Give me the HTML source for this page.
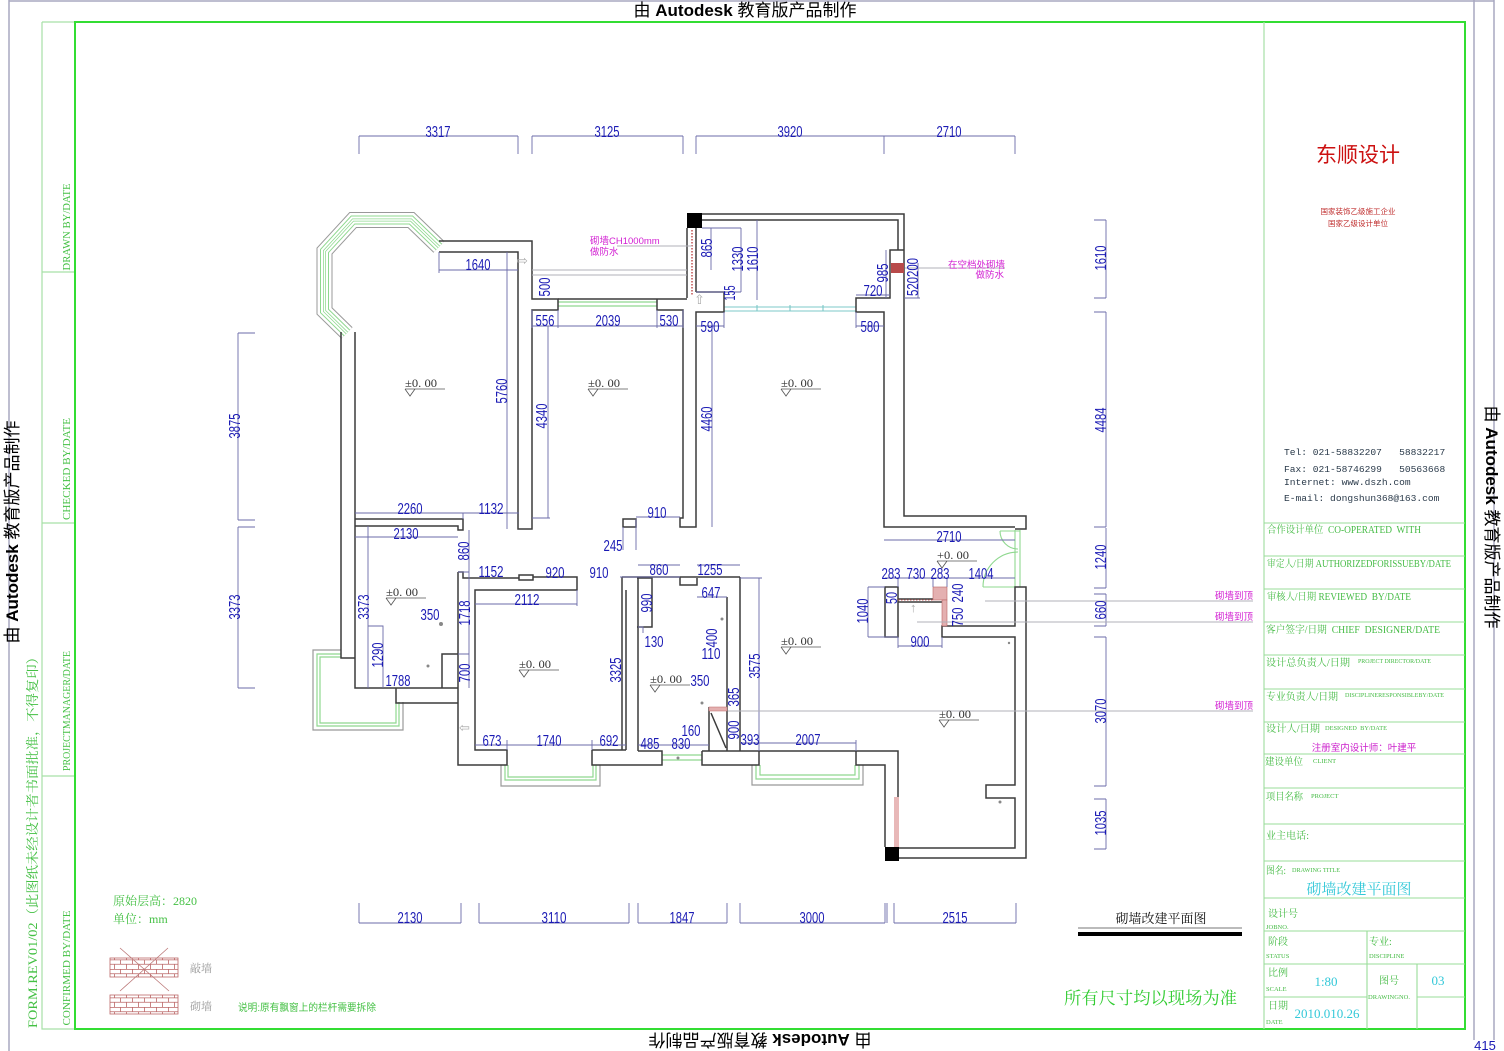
<!DOCTYPE html>
<html><head><meta charset="utf-8"><style>
html,body{margin:0;padding:0;background:#fff;}
svg{display:block}
.d{font-family:"Liberation Sans Narrow","Liberation Sans",sans-serif;font-size:16px;fill:#1a1ab4;text-anchor:middle}
.e{font-family:"Liberation Serif",serif;font-size:12px;fill:#333}
.g{font-family:"Liberation Serif","Noto Serif CJK SC",serif;fill:#44bb44;font-size:10px}
.gs{font-family:"Liberation Serif",serif;fill:#44bb44;font-size:6.5px}
.m{font-family:"Liberation Sans","Noto Sans CJK SC",sans-serif;font-size:9.5px;fill:#d21fd2}
.c{font-family:"Liberation Serif","Noto Serif CJK SC",serif;fill:#33c8d8}
.h{font-family:"Liberation Sans","Noto Sans CJK SC",sans-serif;font-size:17px;fill:#000}
</style></head><body>
<svg width="1504" height="1051" viewBox="0 0 1504 1051" xmlns="http://www.w3.org/2000/svg">
<defs>
<pattern id="brick" width="12" height="9.5" patternUnits="userSpaceOnUse">
<rect width="12" height="9.5" fill="#fff"/>
<path d="M0,0.3H12M0,4.75H12M0.5,0V4.75M6.5,4.75V9.5" stroke="#b66" stroke-width="0.8" fill="none"/>
</pattern>
</defs>
<rect width="1504" height="1051" fill="#fff"/>

<!-- outer gray frame -->
<g stroke="#a8a8c0" stroke-width="1.5" fill="none">
<path d="M9,0V1051M9,1H1494M1474,0V1040M1494,0V1040"/>
</g>
<!-- green frames -->
<g fill="none">
<path d="M42,22V1029H75M42,22H75M42,272H75M42,523H75M42,776H75" stroke="#a6e0a6" stroke-width="1.2"/>
<rect x="75" y="22" width="1390" height="1007" stroke="#33dd33" stroke-width="2"/>
<path d="M1264,22V1029" stroke="#a6e0a6" stroke-width="1.2"/>
<path d="M1264,523H1465M1264,556H1465M1264,589H1465M1264,622H1465M1264,655H1465M1264,689H1465M1264,722H1465M1264,754H1465M1264,788H1465M1264,824H1465M1264,861H1465M1264,898H1465M1264,931H1465M1264,964H1465M1264,997H1367M1417,997H1465M1367,931V1029M1417,964V1029" stroke="#99dd99" stroke-width="1.1"/>
</g>

<!-- header texts -->
<text class="h" x="745" y="16" text-anchor="middle">由 <tspan font-weight="bold">Autodesk</tspan> 教育版产品制作</text>
<text class="h" transform="translate(760,1034) rotate(180)" text-anchor="middle">由 <tspan font-weight="bold">Autodesk</tspan> 教育版产品制作</text>
<text class="h" transform="translate(18,532) rotate(-90)" text-anchor="middle">由 <tspan font-weight="bold">Autodesk</tspan> 教育版产品制作</text>
<text class="h" transform="translate(1486,517) rotate(90)" text-anchor="middle">由 <tspan font-weight="bold">Autodesk</tspan> 教育版产品制作</text>
<text transform="translate(37,839) rotate(-90)" text-anchor="middle" font-family="Liberation Serif,Noto Serif CJK SC,serif" font-size="13" fill="#44c044" textLength="378" lengthAdjust="spacingAndGlyphs">FORM.REV01/02（此图纸未经设计者书面批准，不得复印）</text>
<g font-family="Liberation Serif,serif" font-size="10" fill="#44c044" text-anchor="middle">
<text transform="translate(70,227) rotate(-90)" textLength="87" lengthAdjust="spacingAndGlyphs">DRAWN  BY/DATE</text>
<text transform="translate(70,469) rotate(-90)" textLength="102" lengthAdjust="spacingAndGlyphs">CHECKED  BY/DATE</text>
<text transform="translate(70,711) rotate(-90)" textLength="120" lengthAdjust="spacingAndGlyphs">PROJECTMANAGER/DATE</text>
<text transform="translate(70,968) rotate(-90)" textLength="115" lengthAdjust="spacingAndGlyphs">CONFIRMED  BY/DATE</text>
</g>
<text x="1485" y="1050" text-anchor="middle" font-family="Liberation Sans,sans-serif" font-size="13" fill="#1a1ab4">415</text>

<!-- title block -->
<text x="1358" y="162" text-anchor="middle" font-family="Liberation Sans,Noto Sans CJK SC,sans-serif" font-size="21" fill="#cc1111">东顺设计</text>
<text x="1358" y="214" text-anchor="middle" font-family="Liberation Sans,Noto Sans CJK SC,sans-serif" font-size="7.5" fill="#c03030">国家装饰乙级施工企业</text>
<text x="1358" y="226" text-anchor="middle" font-family="Liberation Sans,Noto Sans CJK SC,sans-serif" font-size="7.5" fill="#c03030">国家乙级设计单位</text>
<g font-family="Liberation Mono,monospace" font-size="9.6" fill="#2a3a4a">
<text x="1284" y="455" xml:space="preserve">Tel: 021-58832207   58832217</text>
<text x="1284" y="472" xml:space="preserve">Fax: 021-58746299   50563668</text>
<text x="1284" y="485">Internet: www.dszh.com</text>
<text x="1284" y="501">E-mail: dongshun368@163.com</text>
</g>
<g>
<text class="g" x="1267" y="533" textLength="154" lengthAdjust="spacingAndGlyphs" xml:space="preserve">合作设计单位  CO-OPERATED  WITH</text>
<text class="g" x="1267" y="567" textLength="184" lengthAdjust="spacingAndGlyphs">审定人/日期 AUTHORIZEDFORISSUEBY/DATE</text>
<text class="g" x="1267" y="600" textLength="144" lengthAdjust="spacingAndGlyphs" xml:space="preserve">审核人/日期 REVIEWED  BY/DATE</text>
<text class="g" x="1266" y="633" textLength="174" lengthAdjust="spacingAndGlyphs" xml:space="preserve">客户签字/日期  CHIEF  DESIGNER/DATE</text>
<text class="g" x="1266" y="666" textLength="84" lengthAdjust="spacingAndGlyphs">设计总负责人/日期</text>
<text class="gs" x="1358" y="663" textLength="73" lengthAdjust="spacingAndGlyphs">PROJECT DIRECTOR/DATE</text>
<text class="g" x="1266" y="700" textLength="72" lengthAdjust="spacingAndGlyphs">专业负责人/日期</text>
<text class="gs" x="1345" y="697" textLength="99" lengthAdjust="spacingAndGlyphs">DISCIPLINERESPONSIBLEBY/DATE</text>
<text class="g" x="1266" y="732" textLength="54" lengthAdjust="spacingAndGlyphs">设计人/日期</text>
<text class="gs" x="1325" y="730" textLength="62" lengthAdjust="spacingAndGlyphs" xml:space="preserve">DESIGNED  BY/DATE</text>
<text x="1364" y="751" text-anchor="middle" font-family="Liberation Sans,Noto Sans CJK SC,sans-serif" font-size="9.5" fill="#cc22cc">注册室内设计师：叶建平</text>
<text class="g" x="1265" y="765" textLength="38" lengthAdjust="spacingAndGlyphs">建设单位</text>
<text class="gs" x="1313" y="763">CLIENT</text>
<text class="g" x="1266" y="800" textLength="37" lengthAdjust="spacingAndGlyphs">项目名称</text>
<text class="gs" x="1311" y="798">PROJECT</text>
<text class="g" x="1266" y="839" textLength="43" lengthAdjust="spacingAndGlyphs">业主电话:</text>
<text class="g" x="1266" y="874" textLength="20" lengthAdjust="spacingAndGlyphs">图名:</text>
<text class="gs" x="1292" y="872" textLength="48" lengthAdjust="spacingAndGlyphs">DRAWING TITLE</text>
<text class="c" x="1359" y="894" text-anchor="middle" font-size="15">砌墙改建平面图</text>
<text class="g" x="1268" y="917">设计号</text>
<text class="gs" x="1266" y="929">JOBNO.</text>
<text class="g" x="1268" y="945">阶段</text>
<text class="gs" x="1266" y="958">STATUS</text>
<text class="g" x="1369" y="945">专业:</text>
<text class="gs" x="1369" y="958">DISCIPLINE</text>
<text class="g" x="1268" y="976">比例</text>
<text class="gs" x="1266" y="991">SCALE</text>
<text class="c" x="1326" y="986" text-anchor="middle" font-size="13">1:80</text>
<text class="g" x="1389" y="984" text-anchor="middle">图号</text>
<text class="gs" x="1389" y="999" text-anchor="middle">DRAWINGNO.</text>
<text class="c" x="1438" y="985" text-anchor="middle" font-size="13">03</text>
<text class="g" x="1268" y="1009">日期</text>
<text class="gs" x="1266" y="1024">DATE</text>
<text class="c" x="1327" y="1018" text-anchor="middle" font-size="13">2010.010.26</text>
</g>

<!-- bottom left legend -->
<text x="113" y="905" font-family="Liberation Serif,Noto Serif CJK SC,serif" font-size="12" fill="#44c044">原始层高：2820</text>
<text x="113" y="923" font-family="Liberation Serif,Noto Serif CJK SC,serif" font-size="12" fill="#44c044">单位：mm</text>
<rect x="110" y="958" width="68" height="19" fill="url(#brick)" stroke="#b66" stroke-width="0.8"/>
<path d="M120,948L169,991M168,948L120,991" stroke="#b77" stroke-width="0.8"/>
<rect x="110" y="995" width="68" height="19" fill="url(#brick)" stroke="#b66" stroke-width="0.8"/>
<text x="190" y="972" font-family="Liberation Serif,Noto Serif CJK SC,serif" font-size="11" fill="#999">敲墙</text>
<text x="190" y="1010" font-family="Liberation Serif,Noto Serif CJK SC,serif" font-size="11" fill="#999">砌墙</text>
<text x="238" y="1011" font-family="Liberation Sans,Noto Sans CJK SC,sans-serif" font-size="10" fill="#44c044" textLength="138" lengthAdjust="spacingAndGlyphs">说明:原有飘窗上的栏杆需要拆除</text>
<text x="1064" y="1004" font-family="Liberation Serif,Noto Serif CJK SC,serif" font-size="17" fill="#33cc33" textLength="173" lengthAdjust="spacingAndGlyphs">所有尺寸均以现场为准</text>
<text x="1161" y="923" text-anchor="middle" font-family="Liberation Serif,Noto Serif CJK SC,serif" font-size="13" fill="#111">砌墙改建平面图</text>
<path d="M1078,928H1242" stroke="#bbb" stroke-width="2"/>
<path d="M1078,934H1242" stroke="#000" stroke-width="4"/>

<!-- bays -->
<g fill="none" stroke-linejoin="miter">
<path d="M347,333L324.5,311V251L353,220H411L439,247" stroke="#999" stroke-width="16"/>
<path d="M347,333L324.5,311V251L353,220H411L439,247" stroke="#fff" stroke-width="14"/>
<path d="M347,333L324.5,311V251L353,220H411L439,247" stroke="#8fd88f" stroke-width="9"/>
<path d="M347,333L324.5,311V251L353,220H411L439,247" stroke="#fff" stroke-width="7"/>
<path d="M347,333L324.5,311V251L353,220H411L439,247" stroke="#8fd88f" stroke-width="3"/>
<path d="M347,333L324.5,311V251L353,220H411L439,247" stroke="#fff" stroke-width="1.5"/>
<path d="M341,650H313V730H403V702" stroke="#999" stroke-width="1.2"/>
<path d="M341,654H317V726H399V702M341,657H320V723H396V702" stroke="#8fd88f" stroke-width="1.2"/>
<path d="M501,765V786H600V765" stroke="#999" stroke-width="1.2"/>
<path d="M505,765V780H596V765M508,765V777H593V765" stroke="#8fd88f" stroke-width="1.2"/>
<path d="M752,765V785H863V765" stroke="#999" stroke-width="1.2"/>
<path d="M756,765V779H859V765M760,765V775H855V765" stroke="#8fd88f" stroke-width="1.2"/>
<path d="M558,302H657M558,306H657" stroke="#8fd88f" stroke-width="1.2"/>
<path d="M662,755H702M662,760H702" stroke="#8fd88f" stroke-width="1.2"/>
<path d="M724,307H856M724,311H856M757,305V311M790,305V311M823,305V311" stroke="#7cc8c8" stroke-width="1.1"/>
<path d="M1015,530V587M1020,530V587M983,587H1015M1000,531H1020M983,587A35,35 0 0 1 1018,552M1000,531A18,18 0 0 0 1018,549" stroke="#8fd88f" stroke-width="1.1"/>
</g>

<!-- walls -->
<g stroke="#3c3c3c" stroke-width="1.5" fill="none">
<path d="M439,241H532V299H558V310H532V529H518V252H439"/>
<path d="M558,299H687M657,299V310H683V518H680V527H696V312H724V298M696,292H724V298"/>
<path d="M687,228V298M696,228V292"/>
<path d="M702,214H904V516H1026V529H1015M702,220H898V250H890V298H856V312H884V527H1015M890,250H904"/>
<path d="M341,332V658H355M355,332V688H458M355,519H463V530H458V526H355"/>
<path d="M458,572V765H507V750H475V590H577V577H533M519,578H463V572H458"/>
<path d="M519,575H533V580H519Z"/>
<path d="M442,688V654H458M396,688V703H458"/>
<path d="M592,750H626M592,750V765H662V751H638M622,577V750M626,590V750M638,577V751"/>
<path d="M637,578H652V627H637"/>
<path d="M622,577H740M680,577V585H697V578M727,597V751M740,577V751"/>
<path d="M702,751V765H759V751M702,751H898V797M856,751V765H885V847"/>
<path d="M709,707V751M711,713L726,748"/>
<path d="M899,848H1015V798H986V785H1015V637H942V626H1015V587H1026V858H899"/>
<path d="M885,587H898V637H885Z"/>
<path d="M898,599H933M898,602H942"/>
<path d="M623,519H636V527H623Z"/>
</g>
<!-- black squares and bricks -->
<rect x="687" y="213" width="15" height="15" fill="#000"/>
<rect x="885" y="847" width="14" height="14" fill="#000"/>
<path d="M692,230V296" stroke="#c05050" stroke-width="1.5" stroke-dasharray="1.5,1.5"/>
<rect x="891" y="263" width="13" height="10" fill="#b84a4a"/>
<rect x="933" y="587" width="14" height="13" fill="#e4b0b0" stroke="#b66" stroke-width="0.6"/>
<rect x="942" y="600" width="5" height="26" fill="#e4b0b0" stroke="#b66" stroke-width="0.6"/>
<rect x="894" y="797" width="5" height="50" fill="#e8b8b8"/>
<rect x="709" y="707" width="18" height="4" fill="#e4b0b0" stroke="#b66" stroke-width="0.5"/>
<path d="M898,600H933" stroke="#c05050" stroke-width="1" stroke-dasharray="1.5,1.5"/>

<!-- dimension lines -->
<g stroke="#6b6ba8" stroke-width="0.9" fill="none">
<path d="M359,136H518M532,136H683M696,136H1015M359,136V154M518,136V154M532,136V154M683,136V154M696,136V154M884,136V154M1015,136V154"/>
<path d="M359,923H461M479,923H629M638,923H727M740,923H885M894,923H1016M359,903V923M461,903V923M479,903V923M629,903V923M638,903V923M727,903V923M740,903V923M885,903V923M887,903V923M894,903V923M1016,903V923"/>
<path d="M238,333V520M238,527V688M238,333H255M238,520H255M238,527H255M238,688H255"/>
<path d="M1106,220V298M1106,312V527M1106,528V588M1106,594V626M1106,637V786M1106,799V849M1094,220H1106M1094,298H1106M1094,312H1106M1094,527H1106M1094,588H1106M1094,594H1106M1094,626H1106M1094,637H1106M1094,786H1106M1094,799H1106M1094,849H1106"/>
<path d="M439,270H518M439,252V273"/>
<path d="M532,326H683M558,310V328M657,310V328M532,310V328M683,310V328"/>
<path d="M696,326H724M724,312V328M856,326H884M856,312V328"/>
<path d="M507,252V529M548,326V518M532,518H550M712,326V527"/>
<path d="M355,513H519M463,513V519M355,537H458"/>
<path d="M368,526V688M368,626H383V688M469,530V688M458,572H469M458,654H469"/>
<path d="M475,604H577M577,590V606M475,745H626M507,740V750M592,740V750"/>
<path d="M638,745H709M740,743H856M759,740V751M856,740V751M759,578V751M740,578H762"/>
<path d="M884,540H1015M885,578H1015M898,578V587M933,578V587M947,578V587"/>
<path d="M868,587V637M868,587H885M868,637H898M898,646H942M898,637V648M942,637V648"/>
<path d="M711,228V270M741,228V292M757,220V300M702,228H741M696,292H741"/>
<path d="M886,250V298M918,263V298M904,298H920M856,295H890"/>
<path d="M636,517H680M636,519V550M623,527V550M697,597H727M638,627H643V633"/>
<path d="M620,577H680M638,565H680M697,565H740"/>
</g>
<!-- leader / gray lines -->
<g stroke="#b0b0b8" stroke-width="0.9" fill="none">
<path d="M617,246H692M905,268H1005M985,601H1253M917,622H1253M728,711H1253M532,270H687M532,275H687"/>
</g>
<g font-family="Liberation Sans,sans-serif" font-size="13" fill="#aaa">
<text x="517" y="265">⇨</text><text x="694" y="304">⇧</text><text x="459" y="732">⇦</text><text x="910" y="612">↑</text>
</g>

<!-- magenta notes -->
<text class="m" x="590" y="244" font-size="9">砌墙CH1000mm</text>
<text class="m" x="590" y="255" font-size="9">做防水</text>
<text class="m" x="948" y="268">在空档处砌墙</text>
<text class="m" x="1004" y="278" text-anchor="end">做防水</text>
<text class="m" x="1253" y="599" text-anchor="end">砌墙到顶</text>
<text class="m" x="1253" y="620" text-anchor="end">砌墙到顶</text>
<text class="m" x="1253" y="709" text-anchor="end">砌墙到顶</text>

<!-- horizontal dims -->
<g class="d" transform="translate(0,1)">
<text x="438" y="136" textLength="25" lengthAdjust="spacingAndGlyphs">3317</text>
<text x="607" y="136" textLength="25" lengthAdjust="spacingAndGlyphs">3125</text>
<text x="790" y="136" textLength="25" lengthAdjust="spacingAndGlyphs">3920</text>
<text x="949" y="136" textLength="25" lengthAdjust="spacingAndGlyphs">2710</text>
<text x="410" y="922" textLength="25" lengthAdjust="spacingAndGlyphs">2130</text>
<text x="554" y="922" textLength="25" lengthAdjust="spacingAndGlyphs">3110</text>
<text x="682" y="922" textLength="25" lengthAdjust="spacingAndGlyphs">1847</text>
<text x="812" y="922" textLength="25" lengthAdjust="spacingAndGlyphs">3000</text>
<text x="955" y="922" textLength="25" lengthAdjust="spacingAndGlyphs">2515</text>
<text x="478" y="269" textLength="25" lengthAdjust="spacingAndGlyphs">1640</text>
<text x="545" y="325" textLength="19" lengthAdjust="spacingAndGlyphs">556</text>
<text x="608" y="325" textLength="25" lengthAdjust="spacingAndGlyphs">2039</text>
<text x="669" y="325" textLength="19" lengthAdjust="spacingAndGlyphs">530</text>
<text x="710" y="331" textLength="19" lengthAdjust="spacingAndGlyphs">590</text>
<text x="870" y="331" textLength="19" lengthAdjust="spacingAndGlyphs">580</text>
<text x="873" y="295" textLength="19" lengthAdjust="spacingAndGlyphs">720</text>
<text x="410" y="513" textLength="25" lengthAdjust="spacingAndGlyphs">2260</text>
<text x="491" y="513" textLength="25" lengthAdjust="spacingAndGlyphs">1132</text>
<text x="406" y="538" textLength="25" lengthAdjust="spacingAndGlyphs">2130</text>
<text x="657" y="517" textLength="19" lengthAdjust="spacingAndGlyphs">910</text>
<text x="613" y="550" textLength="19" lengthAdjust="spacingAndGlyphs">245</text>
<text x="491" y="576" textLength="25" lengthAdjust="spacingAndGlyphs">1152</text>
<text x="555" y="577" textLength="19" lengthAdjust="spacingAndGlyphs">920</text>
<text x="599" y="577" textLength="19" lengthAdjust="spacingAndGlyphs">910</text>
<text x="659" y="574" textLength="19" lengthAdjust="spacingAndGlyphs">860</text>
<text x="710" y="574" textLength="25" lengthAdjust="spacingAndGlyphs">1255</text>
<text x="527" y="604" textLength="25" lengthAdjust="spacingAndGlyphs">2112</text>
<text x="711" y="597" textLength="19" lengthAdjust="spacingAndGlyphs">647</text>
<text x="430" y="619" textLength="19" lengthAdjust="spacingAndGlyphs">350</text>
<text x="654" y="646" textLength="19" lengthAdjust="spacingAndGlyphs">130</text>
<text x="711" y="658" textLength="19" lengthAdjust="spacingAndGlyphs">110</text>
<text x="949" y="541" textLength="25" lengthAdjust="spacingAndGlyphs">2710</text>
<text x="891" y="578" textLength="19" lengthAdjust="spacingAndGlyphs">283</text>
<text x="916" y="578" textLength="19" lengthAdjust="spacingAndGlyphs">730</text>
<text x="940" y="578" textLength="19" lengthAdjust="spacingAndGlyphs">283</text>
<text x="981" y="578" textLength="25" lengthAdjust="spacingAndGlyphs">1404</text>
<text x="920" y="646" textLength="19" lengthAdjust="spacingAndGlyphs">900</text>
<text x="398" y="685" textLength="25" lengthAdjust="spacingAndGlyphs">1788</text>
<text x="700" y="685" textLength="19" lengthAdjust="spacingAndGlyphs">350</text>
<text x="691" y="735" textLength="19" lengthAdjust="spacingAndGlyphs">160</text>
<text x="492" y="745" textLength="19" lengthAdjust="spacingAndGlyphs">673</text>
<text x="549" y="745" textLength="25" lengthAdjust="spacingAndGlyphs">1740</text>
<text x="609" y="745" textLength="19" lengthAdjust="spacingAndGlyphs">692</text>
<text x="650" y="748" textLength="19" lengthAdjust="spacingAndGlyphs">485</text>
<text x="681" y="748" textLength="19" lengthAdjust="spacingAndGlyphs">830</text>
<text x="750" y="744" textLength="19" lengthAdjust="spacingAndGlyphs">393</text>
<text x="808" y="744" textLength="25" lengthAdjust="spacingAndGlyphs">2007</text>
</g>
<!-- vertical dims -->
<g class="d" transform="translate(1,0)">
<text transform="translate(239,426) rotate(-90)" textLength="25" lengthAdjust="spacingAndGlyphs">3875</text>
<text transform="translate(239,607) rotate(-90)" textLength="25" lengthAdjust="spacingAndGlyphs">3373</text>
<text transform="translate(1105,258) rotate(-90)" textLength="25" lengthAdjust="spacingAndGlyphs">1610</text>
<text transform="translate(1105,420) rotate(-90)" textLength="25" lengthAdjust="spacingAndGlyphs">4484</text>
<text transform="translate(1105,557) rotate(-90)" textLength="25" lengthAdjust="spacingAndGlyphs">1240</text>
<text transform="translate(1105,610) rotate(-90)" textLength="19" lengthAdjust="spacingAndGlyphs">660</text>
<text transform="translate(1105,711) rotate(-90)" textLength="25" lengthAdjust="spacingAndGlyphs">3070</text>
<text transform="translate(1105,823) rotate(-90)" textLength="25" lengthAdjust="spacingAndGlyphs">1035</text>
<text transform="translate(549,287) rotate(-90)" textLength="19" lengthAdjust="spacingAndGlyphs">500</text>
<text transform="translate(506,391) rotate(-90)" textLength="25" lengthAdjust="spacingAndGlyphs">5760</text>
<text transform="translate(546,416) rotate(-90)" textLength="25" lengthAdjust="spacingAndGlyphs">4340</text>
<text transform="translate(711,419) rotate(-90)" textLength="25" lengthAdjust="spacingAndGlyphs">4460</text>
<text transform="translate(711,248) rotate(-90)" textLength="19" lengthAdjust="spacingAndGlyphs">865</text>
<text transform="translate(742,259) rotate(-90)" textLength="25" lengthAdjust="spacingAndGlyphs">1330</text>
<text transform="translate(757,259) rotate(-90)" textLength="25" lengthAdjust="spacingAndGlyphs">1610</text>
<text transform="translate(734,293) rotate(-90)" textLength="15" lengthAdjust="spacingAndGlyphs">155</text>
<text transform="translate(887,273) rotate(-90)" textLength="19" lengthAdjust="spacingAndGlyphs">985</text>
<text transform="translate(917,277) rotate(-90)" textLength="38" lengthAdjust="spacingAndGlyphs">520200</text>
<text transform="translate(468,551) rotate(-90)" textLength="19" lengthAdjust="spacingAndGlyphs">860</text>
<text transform="translate(368,607) rotate(-90)" textLength="25" lengthAdjust="spacingAndGlyphs">3373</text>
<text transform="translate(469,613) rotate(-90)" textLength="25" lengthAdjust="spacingAndGlyphs">1718</text>
<text transform="translate(382,655) rotate(-90)" textLength="25" lengthAdjust="spacingAndGlyphs">1290</text>
<text transform="translate(469,673) rotate(-90)" textLength="19" lengthAdjust="spacingAndGlyphs">700</text>
<text transform="translate(620,670) rotate(-90)" textLength="25" lengthAdjust="spacingAndGlyphs">3325</text>
<text transform="translate(651,603) rotate(-90)" textLength="19" lengthAdjust="spacingAndGlyphs">990</text>
<text transform="translate(716,638) rotate(-90)" textLength="19" lengthAdjust="spacingAndGlyphs">400</text>
<text transform="translate(759,666) rotate(-90)" textLength="25" lengthAdjust="spacingAndGlyphs">3575</text>
<text transform="translate(738,697) rotate(-90)" textLength="19" lengthAdjust="spacingAndGlyphs">365</text>
<text transform="translate(738,730) rotate(-90)" textLength="19" lengthAdjust="spacingAndGlyphs">900</text>
<text transform="translate(867,611) rotate(-90)" textLength="25" lengthAdjust="spacingAndGlyphs">1040</text>
<text transform="translate(896,598) rotate(-90)" textLength="12" lengthAdjust="spacingAndGlyphs">50</text>
<text transform="translate(962,593) rotate(-90)" textLength="19" lengthAdjust="spacingAndGlyphs">240</text>
<text transform="translate(962,617) rotate(-90)" textLength="19" lengthAdjust="spacingAndGlyphs">750</text>
</g>

<!-- level marks -->
<g class="e">
<text x="405" y="387" textLength="32" lengthAdjust="spacingAndGlyphs">±0. 00</text>
<text x="588" y="387" textLength="32" lengthAdjust="spacingAndGlyphs">±0. 00</text>
<text x="781" y="387" textLength="32" lengthAdjust="spacingAndGlyphs">±0. 00</text>
<text x="386" y="596" textLength="32" lengthAdjust="spacingAndGlyphs">±0. 00</text>
<text x="519" y="668" textLength="32" lengthAdjust="spacingAndGlyphs">±0. 00</text>
<text x="650" y="683" textLength="32" lengthAdjust="spacingAndGlyphs">±0. 00</text>
<text x="781" y="645" textLength="32" lengthAdjust="spacingAndGlyphs">±0. 00</text>
<text x="939" y="718" textLength="32" lengthAdjust="spacingAndGlyphs">±0. 00</text>
<text x="937" y="559" textLength="32" lengthAdjust="spacingAndGlyphs">+0. 00</text>
</g>
<g stroke="#555" stroke-width="0.8" fill="none">
<path d="M405,389H445M405,389l5,7l5,-7"/>
<path d="M588,389H628M588,389l5,7l5,-7"/>
<path d="M781,389H821M781,389l5,7l5,-7"/>
<path d="M386,598H426M386,598l5,7l5,-7"/>
<path d="M519,670H559M519,670l5,7l5,-7"/>
<path d="M650,685H690M650,685l5,7l5,-7"/>
<path d="M781,647H821M781,647l5,7l5,-7"/>
<path d="M939,720H979M939,720l5,7l5,-7"/>
<path d="M937,561H977M937,561l5,7l5,-7"/>
</g>
<g fill="#888">
<circle cx="441" cy="624" r="2"/><circle cx="428" cy="666" r="1.5"/><circle cx="722" cy="619" r="1.5"/><circle cx="702" cy="703" r="1.5"/><circle cx="1009" cy="643" r="1.2"/><circle cx="1000" cy="802" r="1.5"/><circle cx="678" cy="758" r="1.5"/>
</g>
</svg>
</body></html>
